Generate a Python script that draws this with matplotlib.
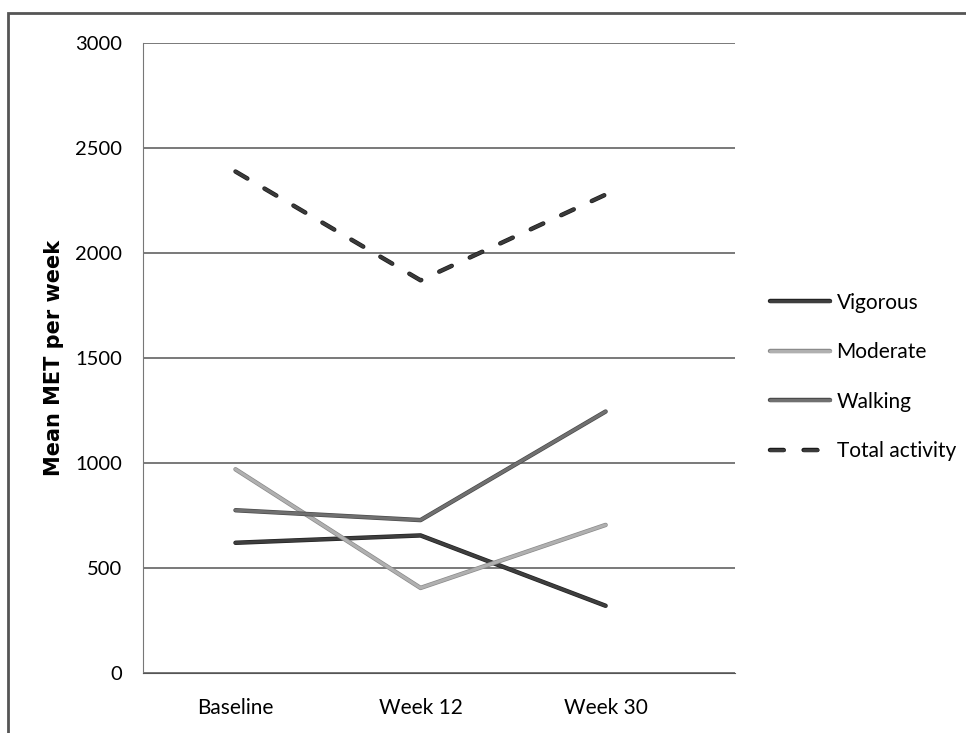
import matplotlib.pyplot as plt
import matplotlib.patheffects as pe
from matplotlib.patches import Rectangle

plt.rcParams['font.family'] = ['Lato', 'DejaVu Sans']

categories = ['Baseline', 'Week 12', 'Week 30']
vigorous = [620, 655, 320]
moderate = [970, 405, 705]
walking = [775, 728, 1245]
total = [2388, 1870, 2278]
yticks = [0, 500, 1000, 1500, 2000, 2500, 3000]


def edge(c):
    return [pe.Stroke(linewidth=3.2, foreground=c), pe.Normal()]


fig = plt.figure(figsize=(9.66, 7.33), dpi=100)
ax = fig.add_axes([0.148, 0.0819, 0.613, 0.8594])

x = range(len(categories))
ax.plot(x, vigorous, color='#3e3e3e', lw=2.2, label='Vigorous', solid_capstyle='round',
        path_effects=edge('#222222'))
ax.plot(x, moderate, color='#b0b0b0', lw=2.2, label='Moderate', solid_capstyle='round',
        path_effects=edge('#8a8a8a'))
ax.plot(x, walking, color='#707070', lw=2.2, label='Walking', solid_capstyle='round',
        path_effects=edge('#4a4a4a'))
ax.plot(x, total, color='#3a3a3a', lw=2.2, ls=(0, (4.5, 6.5)), label='Total activity',
        dash_capstyle='round', path_effects=edge('#1a1a1a'))

ax.set_xlim(-0.5, 2.7)
ax.set_ylim(0, 3000)
ax.set_yticks(yticks)
ax.set_xticks(list(x))
ax.set_xticklabels(categories)
ax.grid(axis='y', color='#555555', lw=1.1)
ax.set_axisbelow(True)
for s in ['top', 'right']:
    ax.spines[s].set_visible(False)
ax.spines['left'].set_color('#777777')
ax.spines['bottom'].set_color('#555555')
ax.tick_params(axis='y', length=0, labelsize=14.5, pad=15)
ax.tick_params(axis='x', length=0, labelsize=15, pad=18)
ax.set_ylabel('Mean MET per week', fontsize=15, fontweight='bold',
              family='DejaVu Sans', labelpad=8)

ax.legend(loc='center left', bbox_to_anchor=(1.027, 0.47), frameon=False,
          fontsize=15, handlelength=2.9, labelspacing=1.42, handletextpad=0.3)

fig.patches.append(Rectangle((8 / 966, -0.1), 1.1, 1 - 13 / 733 + 0.1,
                             transform=fig.transFigure, fill=False,
                             edgecolor='#555555', lw=2, clip_on=False))

fig.savefig('out.png', dpi=100)
